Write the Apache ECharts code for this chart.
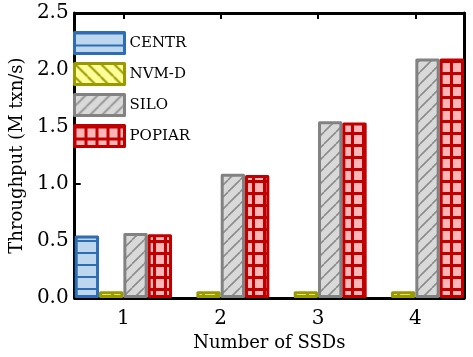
<!DOCTYPE html>
<html>
<head>
<meta charset="utf-8">
<script src="https://cdn.jsdelivr.net/npm/echarts@6/dist/echarts.min.js"></script>
<style>
  html, body { margin: 0; padding: 0; background: #fff; }
  #chart { width: 473px; height: 357px; }
</style>
</head>
<body>
<div id="chart"></div>
<script>
// data
const categories = ['1', '2', '3', '4'];
const centr = [0.55, null, null, null];
const nvmd = [0.06, 0.06, 0.06, 0.06];
const silo = [0.57, 1.09, 1.55, 2.10];
const popiar = [0.56, 1.08, 1.54, 2.10];
const yTicks = [0, 0.5, 1.0, 1.5, 2.0, 2.5];

const FONT = 'DejaVu Serif';

// tile patterns (hatching) drawn on a small canvas
const makePattern = (w, h, bg, fg, lw, draw) => {
  let c = document.createElement('canvas');
  c.width = w;
  c.height = h;
  let ctx = c.getContext('2d');
  ctx.fillStyle = bg;
  ctx.fillRect(0, 0, w, h);
  ctx.fillStyle = fg;
  ctx.strokeStyle = fg;
  ctx.lineWidth = lw;
  draw(ctx, w, h);
  return { image: c, repeat: 'repeat' };
};

const hLines = makePattern(4, 12, '#bdd7ee', '#2e6db4', 2, (ctx, w) => {
  ctx.fillRect(0, 0, w, 2);
});

const backSlash = makePattern(13, 13, '#ffff99', '#999900', 2, (ctx, w, h) => {
  [-w, 0, w].forEach((dx) => {
    ctx.beginPath();
    ctx.moveTo(dx, 0);
    ctx.lineTo(dx + w, h);
    ctx.stroke();
  });
});

const slash = makePattern(12, 12, '#d9d9d9', '#8c8c8c', 1.6, (ctx, w, h) => {
  [-w, 0, w].forEach((dx) => {
    ctx.beginPath();
    ctx.moveTo(dx, h);
    ctx.lineTo(dx + w, 0);
    ctx.stroke();
  });
});

const grid = makePattern(11, 12, '#ffb6b6', '#c00000', 3, (ctx, w, h) => {
  ctx.fillRect(0, 0, w, 3);
  ctx.fillRect(10, 0, 1, h);
  ctx.fillRect(0, 0, 2, h);
});

const barSeries = (name, data, fill, border) => ({
  name: name,
  type: 'bar',
  data: data,
  barGap: '0%',
  barCategoryGap: '0%',
  itemStyle: {
    color: fill,
    borderColor: border,
    borderWidth: 3,
    borderJoin: 'round'
  },
  emphasis: { disabled: true }
});

let chart = echarts.init(document.getElementById('chart'));

let frameLine = { show: true, onZero: false, lineStyle: { color: '#000', width: 3 } };

chart.setOption({
  animation: false,
  textStyle: { fontFamily: FONT, color: '#000' },
  grid: { left: 68, right: 9, top: 13, bottom: 51 },
  legend: {
    orient: 'vertical',
    left: 73,
    top: 31,
    padding: 0,
    itemWidth: 50,
    itemHeight: 21,
    itemGap: 7,
    icon: 'rect',
    itemStyle: { borderWidth: 3 },
    textStyle: { fontFamily: FONT, fontSize: 15, color: '#000' },
    data: ['CENTR', 'NVM-D', 'SILO', 'POPIAR']
  },
  xAxis: [
    {
      type: 'category',
      data: categories,
      position: 'bottom',
      axisLine: frameLine,
      axisTick: { show: false },
      axisLabel: { fontFamily: FONT, fontSize: 20, color: '#000', margin: 11 },
      name: 'Number of SSDs',
      nameLocation: 'middle',
      nameGap: 32,
      nameTextStyle: { fontFamily: FONT, fontSize: 18, color: '#000' }
    },
    {
      type: 'category',
      data: categories,
      position: 'top',
      axisLine: frameLine,
      axisTick: { show: true, inside: true, alignWithLabel: true, length: 6, lineStyle: { color: '#000', width: 2 } },
      axisLabel: { show: false }
    }
  ],
  yAxis: [
    {
      type: 'value',
      min: yTicks[0],
      max: yTicks[yTicks.length - 1],
      interval: 0.5,
      axisLine: frameLine,
      axisTick: { show: true, inside: true, length: 6, lineStyle: { color: '#000', width: 2 } },
      splitLine: { show: false },
      axisLabel: {
        fontFamily: FONT, fontSize: 20, color: '#000', margin: 6,
        formatter: (v) => v.toFixed(1)
      },
      name: 'Throughput (M txn/s)',
      nameLocation: 'middle',
      nameGap: 44,
      nameTextStyle: { fontFamily: FONT, fontSize: 18, color: '#000' }
    },
    {
      type: 'value',
      position: 'right',
      min: yTicks[0],
      max: yTicks[yTicks.length - 1],
      interval: 0.5,
      axisLine: frameLine,
      axisTick: { show: false },
      axisLabel: { show: false },
      splitLine: { show: false }
    }
  ],
  series: [
    barSeries('CENTR', centr, hLines, '#2e6db4'),
    barSeries('NVM-D', nvmd, backSlash, '#999900'),
    barSeries('SILO', silo, slash, '#828282'),
    barSeries('POPIAR', popiar, grid, '#c00000')
  ]
});
</script>
</body>
</html>
